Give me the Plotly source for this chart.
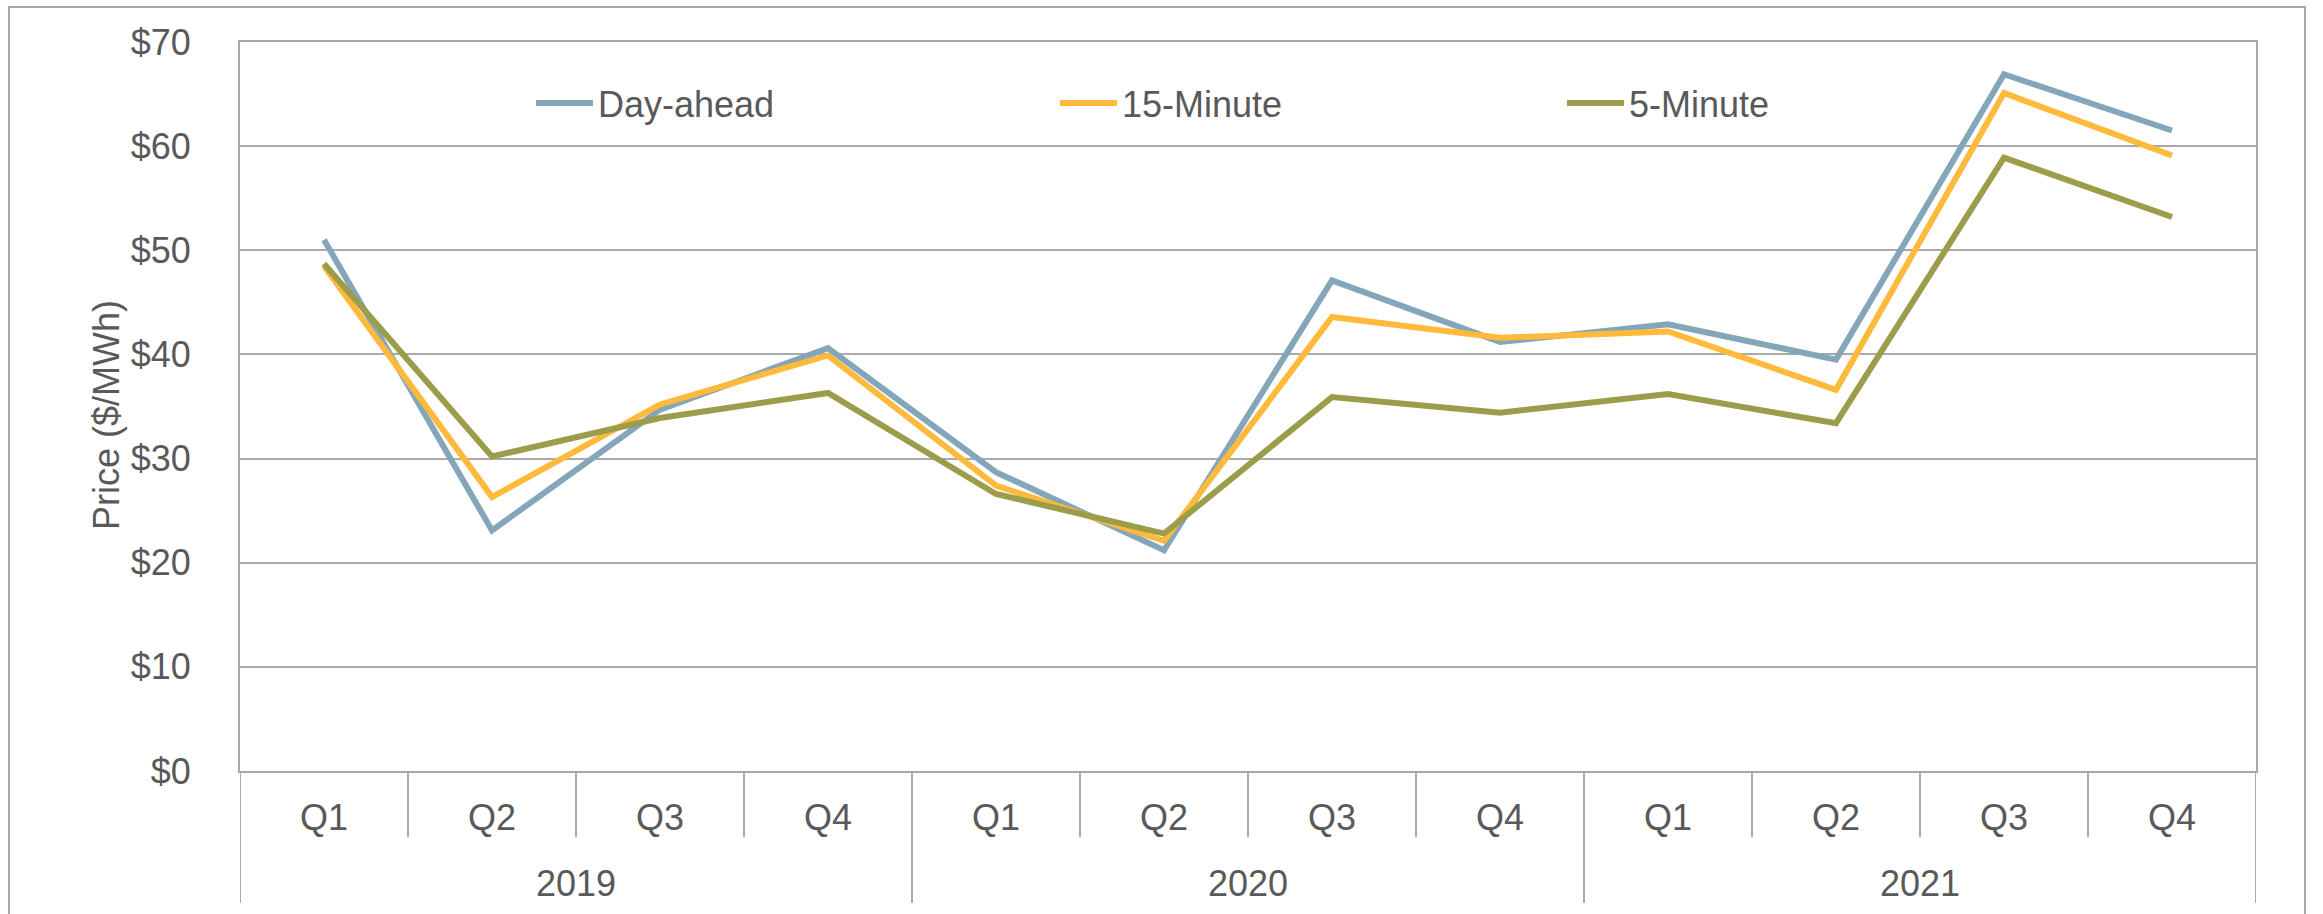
import plotly.graph_objects as go

# Quarterly average prices ($/MWh)
years = ["2019", "2020", "2021"]
quarters = ["Q1", "Q2", "Q3", "Q4"]

day_ahead = [51.0, 23.1, 34.7, 40.6, 28.7, 21.2, 47.1, 41.2, 42.9, 39.5, 66.9, 61.5]
fifteen_minute = [48.5, 26.3, 35.2, 39.9, 27.4, 22.1, 43.6, 41.6, 42.2, 36.6, 65.1, 59.1]
five_minute = [48.7, 30.2, 33.9, 36.3, 26.6, 22.8, 35.9, 34.4, 36.2, 33.4, 58.9, 53.2]

y_ticks = [0, 10, 20, 30, 40, 50, 60, 70]
y_tick_labels = ["$" + str(v) for v in y_ticks]

periods = [f"{y} {q}" for y in years for q in quarters]
period_labels = [q for _ in years for q in quarters]

# Canvas geometry (pixels)
W, H = 2323, 914
ML, MR, MT, MB = 240, 67, 42, 143
PW = W - ML - MR
PH = H - MT - MB


def paper_x(px):
    return (px - ML) / PW


def paper_y(py):
    return (H - MB - py) / PH


TEXT = "#595959"
GRID = "#A9A9A9"
FONT = "Liberation Sans, Arial, sans-serif"
FS = 36

series = [
    ("Day-ahead", day_ahead, "#84A6BA", "legend", 536),
    ("15-Minute", fifteen_minute, "#FFB93B", "legend2", 1060),
    ("5-Minute", five_minute, "#9B9D4A", "legend3", 1567),
]

fig = go.Figure()
for name, values, color, leg, _ in series:
    fig.add_trace(go.Scatter(
        x=periods, y=values, name=name, mode="lines",
        line=dict(color=color, width=6),
        legend=leg,
    ))

legend_layout = {}
for name, values, color, leg, lx in series:
    legend_layout[leg] = dict(
        x=paper_x(lx - 5), xanchor="left",
        y=paper_y(103), yanchor="middle",
        orientation="h",
        bgcolor="rgba(0,0,0,0)",
        borderwidth=0,
        font=dict(family=FONT, size=FS, color=TEXT),
        itemwidth=57,
    )

# Category separators below the axis: short ones between quarters,
# long ones between years
shapes = []
n_q = len(quarters)
for i in range(len(periods) + 1):
    boundary = i - 0.5
    depth = 132 if i % n_q == 0 else 66
    shapes.append(dict(
        type="line", xref="x", yref="paper",
        x0=boundary, x1=boundary, y0=0, y1=-depth / PH,
        line=dict(color=GRID, width=2),
    ))

# Outer frame of the chart
shapes.append(dict(
    type="rect", xref="paper", yref="paper",
    x0=paper_x(9), x1=paper_x(2305), y0=paper_y(930), y1=paper_y(7),
    line=dict(color=GRID, width=2), fillcolor="rgba(0,0,0,0)", layer="below",
))

annotations = []
for k, y in enumerate(years):
    center = k * n_q + (n_q - 1) / 2
    annotations.append(dict(
        x=center, xref="x", y=paper_y(883), yref="paper",
        text=y, showarrow=False, xanchor="center", yanchor="middle",
        font=dict(family=FONT, size=FS, color=TEXT),
    ))

annotations.append(dict(
    x=paper_x(106), xref="paper", y=paper_y(415), yref="paper",
    text="Price ($/MWh)", textangle=-90, showarrow=False,
    xanchor="center", yanchor="middle",
    font=dict(family=FONT, size=FS, color=TEXT),
))

fig.update_layout(
    width=W, height=H,
    margin=dict(l=ML, r=MR, t=MT, b=MB, pad=0),
    paper_bgcolor="white", plot_bgcolor="white",
    font=dict(family=FONT, size=FS, color=TEXT),
    showlegend=True,
    shapes=shapes,
    annotations=annotations,
    **legend_layout,
)

fig.update_xaxes(
    type="category",
    range=[-0.5, len(periods) - 0.5],
    tickvals=periods, ticktext=period_labels,
    showgrid=False, zeroline=False,
    showline=True, linecolor=GRID, linewidth=2, mirror=True,
    ticks="", ticklabelstandoff=14,
    tickfont=dict(family=FONT, size=FS, color=TEXT),
)
fig.update_yaxes(
    range=[0, 70],
    tickvals=y_ticks, ticktext=y_tick_labels,
    showgrid=True, gridcolor=GRID, gridwidth=2,
    zeroline=False,
    showline=True, linecolor=GRID, linewidth=2, mirror=True,
    ticks="", ticklabelstandoff=40,
    tickfont=dict(family=FONT, size=FS, color=TEXT),
)

fig.write_html("out.html")
